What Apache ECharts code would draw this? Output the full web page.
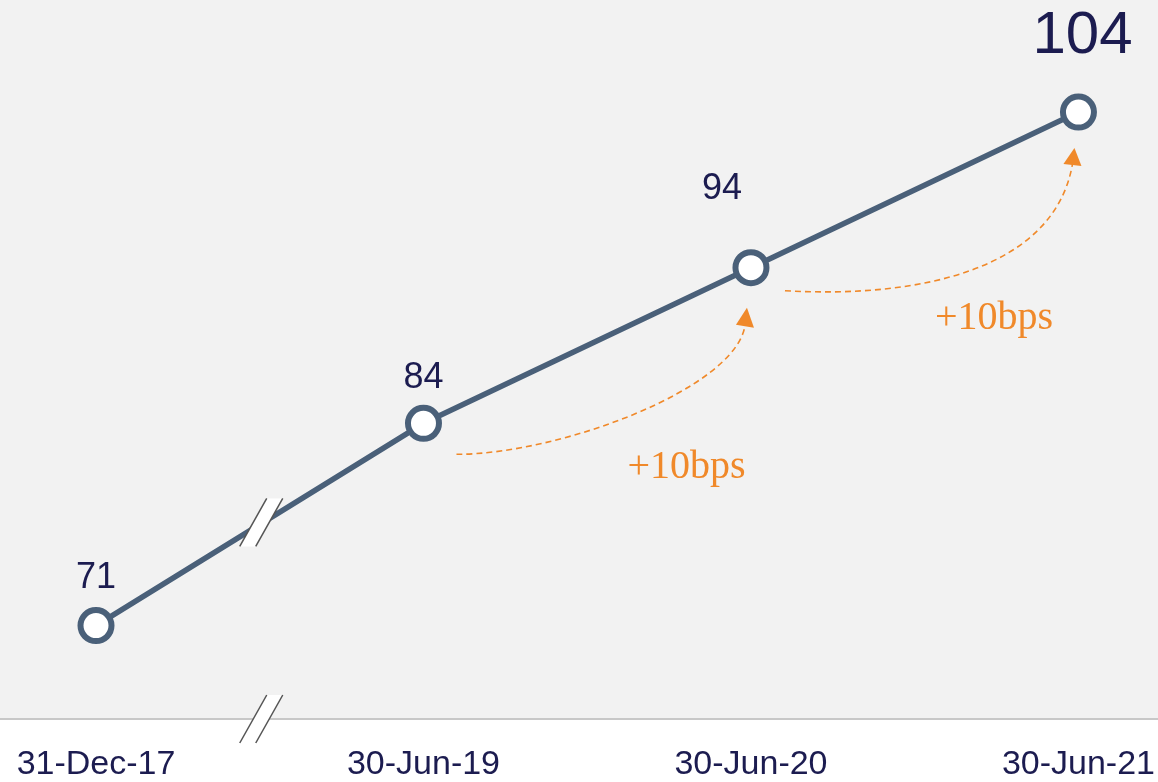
<!DOCTYPE html>
<html><head><meta charset="utf-8">
<script src="https://cdn.jsdelivr.net/npm/echarts@6/dist/echarts.min.js"></script>
<style>html,body{margin:0;padding:0;background:#fff}#c{width:1158px;height:782px}</style>
</head><body><div id="c"></div>
<script>
// ---- data ----
const categories = ['31-Dec-17', '30-Jun-19', '30-Jun-20', '30-Jun-21'];
const values = [71, 84, 94, 104];
const changeLabels = ['+10bps', '+10bps'];
const yMin = 65, yMax = 111.2;

// ---- styles ----
const NAVY = '#1c1c50', LINE = '#4a6079', ORANGE = '#f0892a';
const labelStyles = [
  { fontSize: 36, distance: 11, offset: [0, 0] },
  { fontSize: 36, distance: 9, offset: [0, 0] },
  { fontSize: 36, distance: 42, offset: [-29, 0] },
  { fontSize: 60, distance: 27, offset: [4, 0] }
];

const chart = echarts.init(document.getElementById('c'), null, { renderer: 'canvas' });
chart.setOption({
  backgroundColor: '#f2f2f2',
  animation: false,
  grid: { left: 96, right: 79, top: 0, bottom: 61 },
  xAxis: {
    type: 'category', data: categories, boundaryGap: false,
    axisLine: { show: false }, axisTick: { show: false }, splitLine: { show: false },
    axisLabel: { color: NAVY, fontSize: 34, fontFamily: 'Liberation Sans, Arial, sans-serif', margin: 29, interval: 0 }
  },
  yAxis: { type: 'value', min: yMin, max: yMax, show: false, splitLine: { show: false } },
  series: [{
    type: 'line', z: 5,
    data: values.map((v, i) => ({
      value: v,
      label: {
        show: true, position: 'top', distance: labelStyles[i].distance, offset: labelStyles[i].offset,
        fontSize: labelStyles[i].fontSize, color: NAVY, fontFamily: 'Liberation Sans, Arial, sans-serif'
      }
    })),
    lineStyle: { color: LINE, width: 5.5 },
    symbol: 'circle', symbolSize: 31,
    itemStyle: { color: '#ffffff', borderColor: LINE, borderWidth: 6 }
  }]
});

// ---- annotations positioned from the chart's own scales ----
const P = values.map((v, i) => chart.convertToPixel({ seriesIndex: 0 }, [i, v]));
const axisY = chart.convertToPixel({ yAxisIndex: 0 }, yMin);
const W = chart.getWidth(), H = chart.getHeight();

function breakMark(cx, cy) {
  return [
    { type: 'polygon', z: 50, shape: { points: [[cx - 22, cy + 24], [cx + 5, cy - 24], [cx + 21, cy - 24], [cx - 6, cy + 24]] },
      style: { fill: '#ffffff', stroke: null } },
    { type: 'line', z: 51, shape: { x1: cx - 22, y1: cy + 24, x2: cx + 5, y2: cy - 24 }, style: { stroke: '#555', lineWidth: 1.5 } },
    { type: 'line', z: 51, shape: { x1: cx - 6, y1: cy + 24, x2: cx + 21, y2: cy - 24 }, style: { stroke: '#555', lineWidth: 1.5 } }
  ];
}
function arrow(a, b, c, d, tip, bl, br) {
  return [
    { type: 'bezierCurve', z: 40,
      shape: { x1: a[0], y1: a[1], cpx1: b[0], cpy1: b[1], cpx2: c[0], cpy2: c[1], x2: d[0], y2: d[1] },
      style: { stroke: ORANGE, lineWidth: 1.6, lineDash: [6, 4], fill: null } },
    { type: 'polygon', z: 41, shape: { points: [tip, bl, br] }, style: { fill: ORANGE } }
  ];
}
const add = (p, dx, dy) => [p[0] + dx, p[1] + dy];

const graphics = [
  { type: 'rect', z: -1, shape: { x: 0, y: axisY, width: W, height: H - axisY }, style: { fill: '#ffffff' } },
  { type: 'line', z: 1, shape: { x1: 0, y1: axisY, x2: W, y2: axisY }, style: { stroke: '#c8c8c8', lineWidth: 2 } },
  ...breakMark((P[0][0] + P[1][0]) / 2 + 2, (P[0][1] + P[1][1]) / 2 - 2),
  ...breakMark((P[0][0] + P[1][0]) / 2 + 2, axisY),
  ...arrow(add(P[1], 33, 31), add(P[1], 136, 31), add(P[2], -16, 121), add(P[2], -6, 58),
           add(P[2], -4, 40), add(P[2], -15, 57), add(P[2], 3, 60)),
  ...arrow(add(P[2], 34, 23), add(P[2], 169, 31), add(P[3], -24, 157), add(P[3], -6, 52),
           add(P[3], -4, 36), add(P[3], -15, 52), add(P[3], 3, 54)),
  { type: 'text', z: 45, x: P[1][0] + 263, y: P[1][1] + 44,
    style: { text: changeLabels[0], fill: ORANGE, font: '40px "Liberation Serif", "DejaVu Serif", serif', textAlign: 'center', textVerticalAlign: 'middle' } },
  { type: 'text', z: 45, x: P[2][0] + 243, y: P[2][1] + 51,
    style: { text: changeLabels[1], fill: ORANGE, font: '40px "Liberation Serif", "DejaVu Serif", serif', textAlign: 'center', textVerticalAlign: 'middle' } }
];
chart.setOption({ graphic: { elements: graphics } });
</script>
</body></html>
